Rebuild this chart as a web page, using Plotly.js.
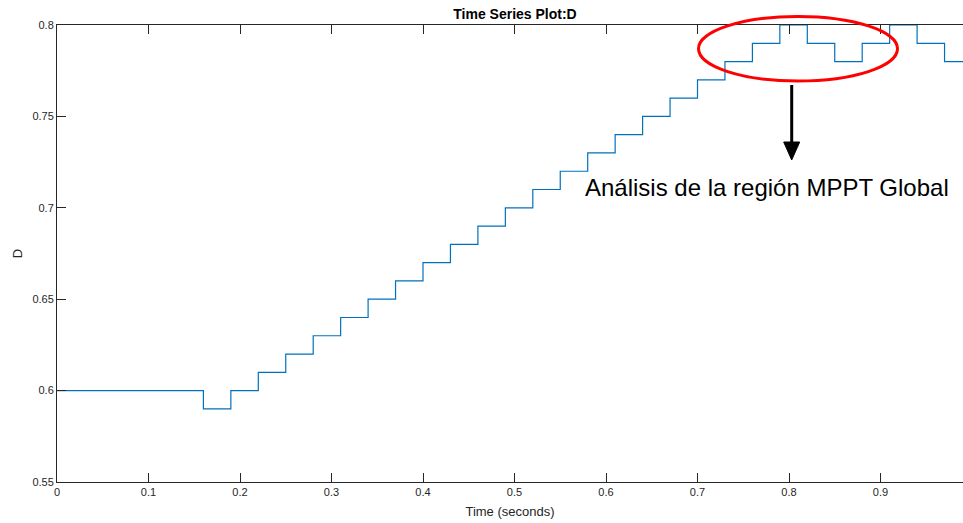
<!DOCTYPE html>
<html>
<head>
<meta charset="utf-8">
<script src="https://cdn.plot.ly/plotly-3.0.1.min.js"></script>
<style>html,body{margin:0;padding:0;background:#fff;}#chart{width:963px;height:523px;}</style>
</head>
<body>
<div id="chart"></div>
<script>
// Step start times (seconds) and duty cycle D held from each time
var timeSec = [0, 0.16, 0.19, 0.22, 0.25, 0.28, 0.31, 0.34, 0.37, 0.40, 0.43, 0.46, 0.49, 0.52, 0.55, 0.58, 0.61, 0.64, 0.67, 0.70, 0.73, 0.76, 0.79, 0.82, 0.85, 0.88, 0.91, 0.94, 0.97, 1.00];
var dutyD   = [0.60, 0.59, 0.60, 0.61, 0.62, 0.63, 0.64, 0.65, 0.66, 0.67, 0.68, 0.69, 0.70, 0.71, 0.72, 0.73, 0.74, 0.75, 0.76, 0.77, 0.78, 0.79, 0.80, 0.79, 0.78, 0.79, 0.80, 0.79, 0.78, 0.78];

var xTickVals = [0, 0.1, 0.2, 0.3, 0.4, 0.5, 0.6, 0.7, 0.8, 0.9];
var xTickText = ["0", "0.1", "0.2", "0.3", "0.4", "0.5", "0.6", "0.7", "0.8", "0.9"];
var yTickVals = [0.55, 0.6, 0.65, 0.7, 0.75, 0.8];
var yTickText = ["0.55", "0.6", "0.65", "0.7", "0.75", "0.8"];

var titleText = "Time Series Plot:D";
var xTitle = "Time (seconds)";
var yTitle = "D";
var noteText = "Análisis de la región MPPT Global";

var FONT = "Liberation Sans, Arial, Helvetica, sans-serif";
var AX = "#262626";

var L = 57, T = 25, B = 41, W = 963, H = 523;
var PW = W - L, PH = H - T - B;
function px(x) { return (x - L) / PW; }
function py(y) { return (H - B - y) / PH; }

var trace = {
  x: timeSec, y: dutyD, type: "scatter", mode: "lines",
  line: {shape: "hv", color: "#0072BD", width: 1.2},
  hoverinfo: "skip"
};

var ax = 791.7;
var layout = {
  width: W, height: H,
  margin: {l: L, r: 0, t: T, b: B, pad: 0},
  paper_bgcolor: "#fff", plot_bgcolor: "#fff",
  showlegend: false,
  font: {family: FONT, color: AX, size: 11},
  title: {text: "<b>" + titleText + "</b>", font: {family: FONT, size: 14, color: "#000"},
          x: px(515), xref: "paper", xanchor: "center", y: 1 - 14 / H, yref: "container", yanchor: "middle"},
  xaxis: {
    range: [0, PW / 915], tickvals: xTickVals, ticktext: xTickText,
    ticks: "inside", ticklen: 9, tickwidth: 1, tickcolor: AX,
    showline: true, linecolor: AX, linewidth: 1, mirror: "ticks",
    showgrid: false, zeroline: false, fixedrange: true,
    tickfont: {family: FONT, size: 11, color: AX},
    title: {text: xTitle, font: {family: FONT, size: 13, color: AX}, standoff: 9}
  },
  yaxis: {
    range: [0.55, 0.8], tickvals: yTickVals, ticktext: yTickText,
    ticks: "inside", ticklen: 9, tickwidth: 1, tickcolor: AX,
    showline: true, linecolor: AX, linewidth: 1, mirror: false,
    showgrid: false, zeroline: false, fixedrange: true,
    tickfont: {family: FONT, size: 11, color: AX},
    title: {text: yTitle, font: {family: FONT, size: 13, color: AX}, standoff: 6}
  },
  shapes: [
    {type: "circle", xref: "paper", yref: "paper",
     x0: px(698.5), x1: px(897.5), y0: py(81), y1: py(16.5),
     line: {color: "#FF0000", width: 3}, layer: "above"},
    {type: "line", xref: "paper", yref: "paper",
     x0: px(ax), x1: px(ax), y0: py(85), y1: py(146),
     line: {color: "#000", width: 3}},
    {type: "path", xref: "paper", yref: "paper",
     path: "M" + px(ax - 8) + "," + py(142) + " L" + px(ax + 8) + "," + py(142) + " L" + px(ax) + "," + py(160) + " Z",
     fillcolor: "#000", line: {color: "#000", width: 1}}
  ],
  annotations: [
    {text: noteText, xref: "paper", yref: "paper", x: px(766.5), y: py(187.5),
     xanchor: "center", yanchor: "middle", showarrow: false,
     font: {family: FONT, size: 24, color: "#000"}}
  ]
};

Plotly.newPlot("chart", [trace], layout, {displayModeBar: false, staticPlot: true});
</script>
</body>
</html>
